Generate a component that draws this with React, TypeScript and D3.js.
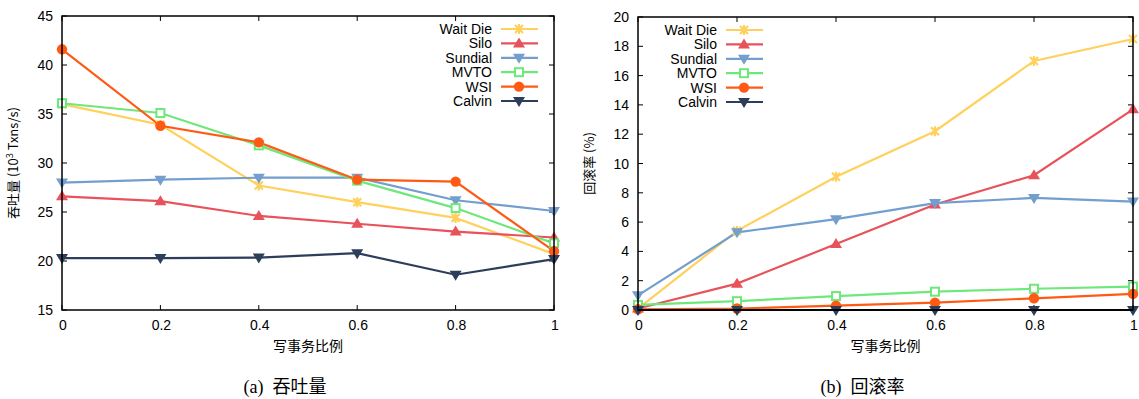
import React, { useEffect, useRef } from "react";
import * as d3 from "d3";

const ratios = [0, 0.2, 0.4, 0.6, 0.8, 1];
const seriesNames = ["Wait Die", "Silo", "Sundial", "MVTO", "WSI", "Calvin"];
const seriesColors = ["#ffd15c", "#e8525a", "#739ece", "#6ee87a", "#ff5a14", "#2c3e5a"];
const seriesMarkers = ["cross", "up", "down", "square", "circle", "down"];

// throughput (10^3 Txns/s)
const tputWaitDie = [36.0, 33.9, 27.7, 26.0, 24.4, 20.7];
const tputSilo = [26.6, 26.1, 24.6, 23.8, 23.0, 22.4];
const tputSundial = [28.0, 28.3, 28.5, 28.5, 26.2, 25.1];
const tputMVTO = [36.1, 35.1, 31.8, 28.2, 25.4, 21.8];
const tputWSI = [41.6, 33.8, 32.1, 28.3, 28.1, 21.0];
const tputCalvin = [20.3, 20.3, 20.35, 20.8, 18.6, 20.2];

// abort rate (%)
const abortWaitDie = [0.1, 5.4, 9.1, 12.2, 17.0, 18.5];
const abortSilo = [0.1, 1.8, 4.5, 7.2, 9.2, 13.7];
const abortSundial = [1.0, 5.3, 6.2, 7.3, 7.65, 7.4];
const abortMVTO = [0.35, 0.6, 0.95, 1.25, 1.45, 1.6];
const abortWSI = [0.05, 0.1, 0.3, 0.5, 0.8, 1.1];
const abortCalvin = [0, 0, 0, 0, 0, 0];

const xTicks = [0, 0.2, 0.4, 0.6, 0.8, 1];
const tputTicks = [15, 20, 25, 30, 35, 40, 45];
const abortTicks = [0, 2, 4, 6, 8, 10, 12, 14, 16, 18, 20];

const FONT = "'Liberation Sans', Arial, 'Noto Sans CJK SC', sans-serif";
const CJK = "'Noto Sans CJK SC', sans-serif";

const drawMarker = (g, kind, x, y, color) => {
  if (kind === "circle") {
    g.append("circle").attr("cx", x).attr("cy", y).attr("r", 5.2).attr("fill", color);
  } else if (kind === "square") {
    g.append("rect")
      .attr("x", x - 4).attr("y", y - 4).attr("width", 8).attr("height", 8)
      .attr("fill", "white").attr("stroke", color).attr("stroke-width", 2);
  } else if (kind === "up" || kind === "down") {
    const s = kind === "up" ? -1 : 1;
    g.append("path")
      .attr("d", `M${x - 6},${y - s * 4}L${x + 6},${y - s * 4}L${x},${y + s * 6}Z`)
      .attr("fill", color);
  } else {
    g.append("path")
      .attr("d", `M${x - 4},${y - 4}L${x + 4},${y + 4}M${x - 4},${y + 4}L${x + 4},${y - 4}M${x},${y - 5}L${x},${y + 5}`)
      .attr("stroke", color).attr("stroke-width", 2.2);
  }
};

const drawPanel = (svg, opts) => {
  const { left, right, top, bottom, domain, yTicks, data, legendX, legendY, yLabel, caption, clipBottom } = opts;
  const x = d3.scaleLinear().domain([0, 1]).range([left, right]);
  const y = d3.scaleLinear().domain(domain).range([bottom, top]);
  const g = svg.append("g");

  // ticks (mirrored, inward)
  yTicks.forEach((t) => {
    g.append("line").attr("x1", left).attr("x2", left + 5).attr("y1", y(t)).attr("y2", y(t)).attr("stroke", "#000");
    g.append("line").attr("x1", right).attr("x2", right - 5).attr("y1", y(t)).attr("y2", y(t)).attr("stroke", "#000");
    g.append("text").attr("x", left - 9).attr("y", y(t)).attr("dy", "0.36em")
      .attr("text-anchor", "end").attr("font-size", 14).attr("font-family", FONT).text(t);
  });
  xTicks.forEach((t) => {
    g.append("line").attr("x1", x(t)).attr("x2", x(t)).attr("y1", bottom).attr("y2", bottom - 5).attr("stroke", "#000");
    g.append("line").attr("x1", x(t)).attr("x2", x(t)).attr("y1", top).attr("y2", top + 5).attr("stroke", "#000");
    g.append("text").attr("x", x(t) + 1).attr("y", bottom + 20)
      .attr("text-anchor", "middle").attr("font-size", 14).attr("font-family", FONT).text(t);
  });

  // series
  const line = d3.line().x((d, i) => x(ratios[i])).y((d) => y(d));
  data.forEach((vals, si) => {
    g.append("path").attr("d", line(vals)).attr("fill", "none")
      .attr("stroke", seriesColors[si]).attr("stroke-width", 2.2);
  });
  data.forEach((vals, si) => {
    vals.forEach((v, i) => drawMarker(g, seriesMarkers[si], x(ratios[i]), y(v), seriesColors[si]));
  });

  // frame
  g.append("rect").attr("x", left).attr("y", top).attr("width", right - left).attr("height", bottom - top)
    .attr("fill", "none").attr("stroke", "#000").attr("stroke-width", 1.5);
  if (clipBottom) {
    g.append("line").attr("x1", left).attr("x2", right).attr("y1", bottom).attr("y2", bottom)
      .attr("stroke", "#000").attr("stroke-width", 1.5);
  }

  // legend
  seriesNames.forEach((name, si) => {
    const ly = legendY + si * 14.4;
    g.append("text").attr("x", legendX).attr("y", ly).attr("dy", "0.36em").attr("text-anchor", "end")
      .attr("font-size", 14).attr("font-family", FONT).text(name);
    g.append("line").attr("x1", legendX + 9).attr("x2", legendX + 46).attr("y1", ly).attr("y2", ly)
      .attr("stroke", seriesColors[si]).attr("stroke-width", 2.2);
    drawMarker(g, seriesMarkers[si], legendX + 27, ly, seriesColors[si]);
  });

  // labels
  g.append("text").attr("x", (left + right) / 2).attr("y", bottom + 41).attr("text-anchor", "middle")
    .attr("font-size", 14).attr("font-family", CJK).text("写事务比例");
  const yl = g.append("text")
    .attr("transform", `translate(${left - 44},${(top + bottom) / 2}) rotate(-90)`)
    .attr("text-anchor", "middle").attr("font-size", 13).attr("font-family", CJK);
  yLabel(yl);
  g.append("text").attr("x", (left + right) / 2 - 23).attr("y", bottom + 83).attr("text-anchor", "middle")
    .attr("font-size", 18).attr("font-family", "'Liberation Serif', 'Noto Sans CJK SC', serif")
    .attr("xml:space", "preserve")
    .text(caption);
};

export default function App() {
  const ref = useRef(null);
  useEffect(() => {
    const svg = d3.select(ref.current);
    svg.selectAll("*").remove();
    drawPanel(svg, {
      left: 62, right: 554, top: 16, bottom: 310,
      domain: [15, 45], yTicks: tputTicks,
      data: [tputWaitDie, tputSilo, tputSundial, tputMVTO, tputWSI, tputCalvin],
      legendX: 492, legendY: 29,
      yLabel: (t) => {
        t.append("tspan").text("吞吐量 (10");
        t.append("tspan").attr("dy", -5).attr("font-size", 9).text("3");
        t.append("tspan").attr("dy", 5).text(" Txns/s)");
      },
      caption: "(a)  吞吐量",
    });
    drawPanel(svg, {
      left: 638, right: 1133, top: 17, bottom: 310,
      domain: [0, 20], yTicks: abortTicks,
      data: [abortWaitDie, abortSilo, abortSundial, abortMVTO, abortWSI, abortCalvin],
      legendX: 717, legendY: 30,
      yLabel: (t) => t.text("回滚率 (%)"),
      caption: "(b)  回滚率",
      clipBottom: true,
    });
  }, []);
  return (
    <svg ref={ref} width={1139} height={399}
      style={{ position: "absolute", left: 0, top: 0, background: "white" }} />
  );
}
